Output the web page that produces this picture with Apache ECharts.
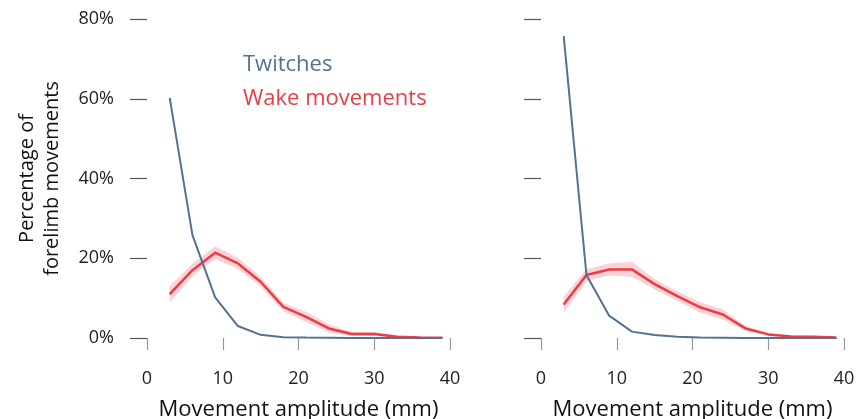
<!DOCTYPE html>
<html>
<head>
<meta charset="utf-8">
<script src="https://cdn.jsdelivr.net/npm/echarts@6/dist/echarts.min.js"></script>
<style>
  html, body { margin: 0; padding: 0; background: #fff; }
  #chart { width: 856px; height: 419px; }
</style>
</head>
<body>
<div id="chart"></div>
<script>
// Movement amplitude bins (mm)
const amplitude = [3, 6, 9, 12, 15, 18, 21, 24, 27, 30, 33, 36, 39];

// Left panel (%)
const twitchLeft = [60.2, 25.8, 10.2, 3.0, 0.8, 0.2, 0.1, 0.05, 0.0, 0.0, 0.0, 0.0, 0.0];
const wakeLeft = [11.0, 17.0, 21.4, 18.7, 14.1, 7.8, 5.3, 2.4, 1.0, 1.0, 0.3, 0.1, 0.05];
const wakeLeftErr = [2.0, 1.6, 1.6, 1.4, 1.2, 1.0, 1.3, 1.0, 0.5, 0.5, 0.3, 0.2, 0.1];

// Right panel (%)
const twitchRight = [75.7, 15.8, 5.6, 1.6, 0.75, 0.3, 0.1, 0.05, 0.0, 0.0, 0.0, 0.0, 0.0];
const wakeRight = [8.4, 15.8, 17.2, 17.2, 13.5, 10.5, 7.7, 5.9, 2.4, 0.9, 0.4, 0.3, 0.1];
const wakeRightErr = [2.0, 1.5, 1.5, 1.9, 1.3, 1.2, 1.3, 1.3, 0.6, 0.3, 0.2, 0.2, 0.1];

const yTicks = [0, 20, 40, 60, 80];
const xTicks = [0, 10, 20, 30, 40];

const FONT = 'Open Sans';
const TWITCH = '#557191';
const WAKE = '#ea3d46';
const BAND = 'rgba(236, 80, 95, 0.25)';

const chart = echarts.init(document.getElementById('chart'), null, { renderer: 'canvas' });

function pairs(ys) { return amplitude.map((x, i) => [x, ys[i]]); }

function xAxisFor(idx) {
  return {
    gridIndex: idx, type: 'value', min: xTicks[0], max: xTicks[xTicks.length - 1], interval: 10,
    offset: 15,
    axisLine: { show: false },
    axisTick: { show: true, length: 12, inside: false, lineStyle: { color: '#999', width: 1.2 } },
    axisLabel: { show: true, margin: 17, fontFamily: FONT, fontSize: 18, color: '#222' },
    splitLine: { show: false },
    name: 'Movement amplitude (mm)', nameLocation: 'middle', nameGap: 46,
    nameTextStyle: { fontFamily: FONT, fontSize: 22, color: '#111' }
  };
}

function yAxisFor(idx, withLabels) {
  return {
    gridIndex: idx, type: 'value', min: yTicks[0], max: yTicks[yTicks.length - 1], interval: 20,
    offset: 11,
    axisLine: { show: false },
    axisTick: { show: true, length: 17, lineStyle: { color: '#555', width: 1.2 } },
    axisLabel: { show: withLabels, margin: 22, fontFamily: FONT, fontSize: 18, color: '#222',
                 formatter: v => v + '%' },
    splitLine: { show: false },
    name: withLabels ? 'Percentage of\nforelimb movements' : '',
    nameLocation: 'middle', nameGap: 71, nameRotate: 90,
    nameTextStyle: { fontFamily: FONT, fontSize: 20, color: '#111', lineHeight: 25 }
  };
}

// Shaded error band: one polygon through mean ± err, placed with the grid's scales.
function bandSeries(idx, mean, err) {
  const rows = amplitude.map((x, i) => [x, Math.max(0, mean[i] - err[i]), mean[i] + err[i]]);
  return {
    type: 'custom', xAxisIndex: idx, yAxisIndex: idx, silent: true, z: 1,
    data: rows,
    encode: { x: 0, y: [1, 2] },
    renderItem: function (params, api) {
      if (params.dataIndex !== 0) return null;
      const upper = rows.map(r => api.coord([r[0], r[2]]));
      const lower = rows.map(r => api.coord([r[0], r[1]])).reverse();
      return {
        type: 'polygon',
        shape: { points: upper.concat(lower) },
        style: { fill: BAND }
      };
    }
  };
}

function panelSeries(idx, twitch, wake, err) {
  const common = { xAxisIndex: idx, yAxisIndex: idx, type: 'line', symbol: 'none', silent: true, animation: false };
  return [
    bandSeries(idx, wake, err),
    Object.assign({}, common, {
      name: 'Wake movements', data: pairs(wake),
      lineStyle: { color: WAKE, width: 2.5 }, z: 3
    }),
    Object.assign({}, common, {
      name: 'Twitches', data: pairs(twitch),
      lineStyle: { color: TWITCH, width: 2 }, z: 4
    })
  ];
}

chart.setOption({
  backgroundColor: '#fff',
  animation: false,
  grid: [
    { left: 147, top: 19, width: 303, height: 319, containLabel: false, outerBoundsMode: 'none' },
    { left: 541, top: 19, width: 303, height: 319, containLabel: false, outerBoundsMode: 'none' }
  ],
  xAxis: [xAxisFor(0), xAxisFor(1)],
  yAxis: [yAxisFor(0, true), yAxisFor(1, false)],
  graphic: [
    { type: 'text', left: 243, top: 54,
      style: { text: 'Twitches', fill: TWITCH, font: '22px "Open Sans"' } },
    { type: 'text', left: 243, top: 88,
      style: { text: 'Wake movements', fill: WAKE, font: '22px "Open Sans"' } }
  ],
  series: [].concat(
    panelSeries(0, twitchLeft, wakeLeft, wakeLeftErr),
    panelSeries(1, twitchRight, wakeRight, wakeRightErr)
  )
});
</script>
</body>
</html>
